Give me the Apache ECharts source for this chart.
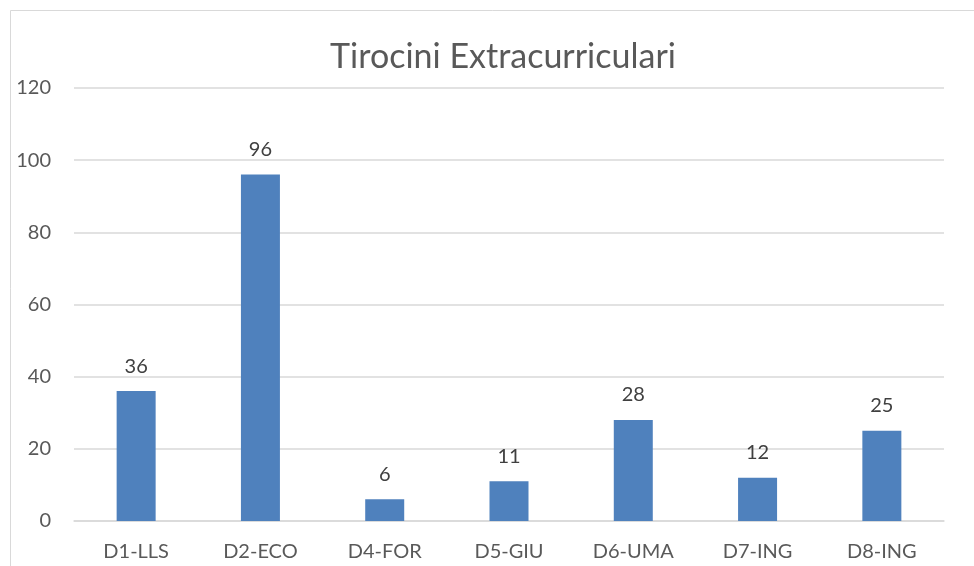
<!DOCTYPE html>
<html>
<head>
<meta charset="utf-8">
<style>
    html, body { margin: 0; padding: 0; background: #fff; }
    #main { width: 974px; height: 566px; }
</style>
</head>
<body>
<div id="main"></div>
<script src="https://cdn.jsdelivr.net/npm/echarts@6/dist/echarts.min.js"></script>
<script type="text/javascript">
    // dati
    var categories = ['D1-LLS', 'D2-ECO', 'D4-FOR', 'D5-GIU', 'D6-UMA', 'D7-ING', 'D8-ING'];
    var values = [36, 96, 6, 11, 28, 12, 25];
    var yTicks = [0, 20, 40, 60, 80, 100, 120];

    var myChart = echarts.init(document.getElementById('main'));
    var font = 'Lato, "Open Sans", sans-serif';

    var option = {
        animation: false,
        backgroundColor: '#fff',
        graphic: [{
            type: 'rect',
            shape: { x: 10.5, y: 10.5, width: 1000, height: 600 },
            style: { fill: 'none', stroke: '#d9d9d9', lineWidth: 1 }
        }],
        title: {
            text: 'Tirocini Extracurriculari',
            left: 498,
            top: 35,
            textAlign: 'center',
            textStyle: { fontFamily: font, fontSize: 34, fontWeight: 'normal', color: '#595959' }
        },
        grid: { left: 74, right: 30, top: 88, bottom: 45 },
        xAxis: {
            type: 'category',
            data: categories,
            axisLine: { show: true, lineStyle: { color: '#d9d9d9', width: 1.5 } },
            axisTick: { show: false },
            axisLabel: { color: '#595959', fontFamily: font, fontSize: 20, margin: 21 }
        },
        yAxis: {
            type: 'value',
            min: yTicks[0],
            max: yTicks[yTicks.length - 1],
            interval: yTicks[1] - yTicks[0],
            axisLine: { show: false },
            axisTick: { show: false },
            splitLine: { lineStyle: { color: '#d9d9d9', width: 1.5 } },
            axisLabel: { color: '#595959', fontFamily: font, fontSize: 20, margin: 23 }
        },
        series: [{
            type: 'bar',
            data: values,
            barWidth: 39,
            itemStyle: { color: '#4f81bd' },
            label: {
                show: true,
                position: 'top',
                distance: 15,
                color: '#404040',
                fontFamily: font,
                fontSize: 20
            }
        }]
    };
    myChart.setOption(option);
</script>
</body>
</html>
